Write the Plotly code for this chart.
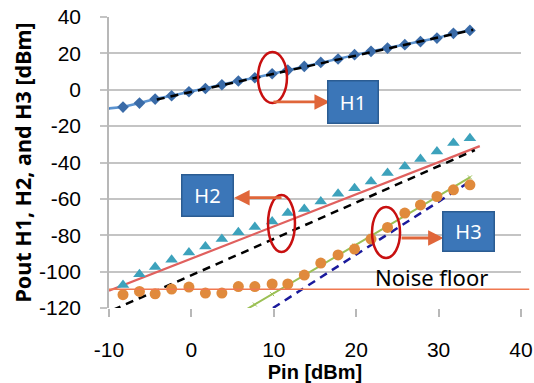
import plotly.graph_objects as go

# ---- data ----
pin = [-8.3, -6.3, -4.4, -2.4, -0.3, 1.7, 3.7, 5.7, 7.7, 9.8, 11.7,
       13.7, 15.7, 17.8, 19.8, 21.8, 23.8, 25.9, 27.8, 29.8, 31.8, 33.8]

h1_x = [-10.6] + pin
h1_y = [-10.5, -9.5, -7.3, -5.1, -3.3, -1.1, 0.7, 2.75, 4.8, 6.6, 8.8, 10.8,
        12.8, 15.0, 16.9, 19.3, 21.1, 22.9, 24.8, 26.5, 28.4, 31.0, 32.6]

h2_y = [-107.3, -101.4, -97.5, -93.5, -89.5, -86.2, -82.1, -78.3, -75.5, -72.4, -67.8,
        -65.6, -61.4, -57.2, -54.1, -50.4, -45.8, -42.2, -38.1, -33.9, -29.3, -26.6]

h3_y = [-112.7, -110.9, -112.2, -109.6, -108.5, -111.8, -111.8, -108.2, -108.2, -106.8, -106.8,
        -101.9, -95.3, -90.8, -87.6, -82.1, -75.7, -67.8, -63.3, -58.7, -55.0, -52.3]

h1_ideal_x = [-4.2, 34.2]
h1_ideal_y = [-5.4, 33.0]

h2_fit_x = [-10.0, 35.0]
h2_fit_y = [-110.5, -31.0]

h2_ideal_x = [-9.5, 34.4]
h2_ideal_y = [-121.0, -33.2]

h3_fit_x = [5.7, 7.7, 9.8, 11.7, 13.7, 15.7, 17.8, 19.8, 21.8, 23.8, 25.9, 27.8, 29.8, 31.8, 33.8]
h3_fit_y = [-123.4, -118.1, -112.4, -107.4, -102.0, -96.7, -91.0, -85.7, -80.3, -75.0,
            -69.4, -64.3, -58.9, -53.6, -48.2]

h3_ideal_x = [9.9, 34.2]
h3_ideal_y = [-120.0, -49.3]

noise_floor = -109.7

x_ticks = [-10, 0, 10, 20, 30, 40]
x_tick_text = ["-10", "0", "10", "20", "30", "40"]
y_ticks = [40, 20, 0, -20, -40, -60, -80, -100, -120]
y_tick_text = ["40", "20", "0", "-20", "-40", "-60", "-80", "-100", "-120"]

FONT = "Noto Sans"
TICKFONT = "Liberation Sans"

fig = go.Figure()

# lines
fig.add_trace(go.Scatter(x=h1_x, y=h1_y, mode="lines+markers",
                         line=dict(color="#5B93D0", width=2.5),
                         marker=dict(symbol="diamond", size=9, color="#3A6BA8"),
                         showlegend=False))
fig.add_trace(go.Scatter(x=h1_ideal_x, y=h1_ideal_y, mode="lines",
                         line=dict(color="black", width=2.5, dash="8px,6px"),
                         showlegend=False))
fig.add_trace(go.Scatter(x=h2_fit_x, y=h2_fit_y, mode="lines",
                         line=dict(color="#E0605E", width=2.2), showlegend=False))
fig.add_trace(go.Scatter(x=h2_ideal_x, y=h2_ideal_y, mode="lines",
                         line=dict(color="black", width=2.5, dash="8px,6px"),
                         showlegend=False))
fig.add_trace(go.Scatter(x=h3_fit_x, y=h3_fit_y, mode="lines+markers",
                         line=dict(color="#9BC054", width=2),
                         marker=dict(symbol="x-thin", size=4, color="#9BC054",
                                     line=dict(color="#9BC054", width=1)),
                         showlegend=False))
fig.add_trace(go.Scatter(x=h3_ideal_x, y=h3_ideal_y, mode="lines",
                         line=dict(color="#1A1A9C", width=2.5, dash="8px,6px"),
                         showlegend=False))
# markers
fig.add_trace(go.Scatter(x=pin, y=h2_y, mode="markers",
                         marker=dict(symbol="triangle-up", size=11, color="#3DA2BC"),
                         showlegend=False))
fig.add_trace(go.Scatter(x=pin, y=h3_y, mode="markers",
                         marker=dict(symbol="circle", size=11, color="#E08A3C"),
                         showlegend=False))

shapes = []
# noise floor line
shapes.append(dict(type="line", xref="paper", yref="y", x0=0, x1=1.02,
                   y0=noise_floor, y1=noise_floor,
                   line=dict(color="#F07850", width=1.5)))
# red ellipses
for (x0, x1, y0, y1) in [(8.08, 11.60, -7.3, 20.75), (9.30, 12.57, -89.2, -57.9),
                         (21.92, 25.32, -92.5, -64.5)]:
    shapes.append(dict(type="circle", xref="x", yref="y", x0=x0, x1=x1, y0=y0, y1=y1,
                       line=dict(color="#C81010", width=2.5)))

annotations = []
# arrows
for (xs, xe, yy) in [(9.78, 16.8, -6.7), (11.12, 5.2, -59.35), (25.32, 30.6, -81.5)]:
    annotations.append(dict(x=xe, y=yy, ax=xs, ay=yy, xref="x", yref="y",
                            axref="x", ayref="y", text="", showarrow=True,
                            arrowhead=2, arrowsize=1.1, arrowwidth=2.8,
                            arrowcolor="#E0663A"))
# boxes
for (txt, cx, cy, w, h) in [("H1", 19.67, -6.46, 47, 39), ("H2", 2.01, -57.9, 48, 38),
                            ("H3", 33.57, -77.7, 48, 36)]:
    annotations.append(dict(x=cx, y=cy, xref="x", yref="y", text=txt, showarrow=False,
                            width=w, height=h, bgcolor="#3B76B8", bordercolor="#2B5C92",
                            borderwidth=1.5, font=dict(family=FONT, size=20, color="white")))
annotations.append(dict(x=29.08, y=-103.0, xref="x", yref="y", text="Noise floor",
                        showarrow=False, font=dict(family=FONT, size=22, color="black")))

fig.update_layout(
    width=534, height=383,
    margin=dict(l=109, r=13, t=17, b=75),
    paper_bgcolor="white", plot_bgcolor="white",
    shapes=shapes, annotations=annotations,
    font=dict(family=FONT, color="black"),
)
fig.update_xaxes(range=[-10, 40], tickvals=x_ticks, ticktext=x_tick_text,
                 automargin=False,
                 showgrid=False, zeroline=False, showline=False,
                 ticks="outside", ticklen=8, tickcolor="#B8B8B8", tickwidth=1.5,
                 ticklabelstandoff=15,
                 tickfont=dict(family=TICKFONT, size=21, color="black"),
                 title=dict(text="<b>Pin [dBm]</b>",
                            font=dict(family=TICKFONT, size=20), standoff=0))
fig.update_yaxes(range=[-120, 40], tickvals=y_ticks, ticktext=y_tick_text,
                 automargin=False,
                 showgrid=True, gridcolor="#C4C4C4", gridwidth=1.5, zeroline=False,
                 showline=True, linecolor="#B8B8B8", linewidth=1.5,
                 ticks="outside", ticklen=7, tickcolor="#C4C4C4", tickwidth=1.5,
                 ticklabelstandoff=15,
                 tickfont=dict(family=TICKFONT, size=21, color="black"),
                 title=dict(text="<b>Pout H1, H2, and H3 [dBm]</b>",
                            font=dict(family=FONT, size=21.5), standoff=1))

# remove the default page margin so the figure sits at the window's top-left
fig.write_html("out.html", config={"displayModeBar": False},
               post_script="document.body.style.margin='0';document.body.style.overflow='hidden';")
